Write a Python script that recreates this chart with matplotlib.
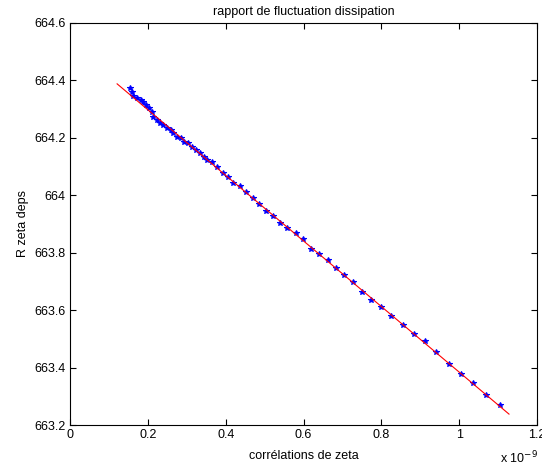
import matplotlib
matplotlib.use("Agg")
import matplotlib.pyplot as plt
import numpy as np

plt.rcParams['font.family'] = ['Liberation Sans', 'DejaVu Sans']

# correlations (units of 1e-9) and R zeta deps values
corr = [0.1545, 0.1597, 0.1622, 0.1725, 0.1828, 0.1880, 0.1957, 0.2034,
        0.2112, 0.2137, 0.2240, 0.2318, 0.2395, 0.2498, 0.2601, 0.2652,
        0.2755, 0.2858, 0.2936, 0.3039, 0.3142, 0.3245, 0.3348, 0.3451,
        0.3528, 0.3657, 0.3785, 0.3940, 0.4069, 0.4197, 0.4378, 0.4532,
        0.4712, 0.4867, 0.5047, 0.5227, 0.5408, 0.5588, 0.5794, 0.5974,
        0.6180, 0.6386, 0.6618, 0.6824, 0.7030, 0.7262, 0.7494, 0.7725,
        0.7983, 0.8240, 0.8549, 0.8833, 0.9116, 0.9399, 0.9734, 1.0043,
        1.0352, 1.0687, 1.1047]
rzeta = [664.374, 664.360, 664.346, 664.339, 664.332, 664.325, 664.314, 664.304,
         664.290, 664.273, 664.262, 664.252, 664.245, 664.234, 664.227, 664.217,
         664.203, 664.199, 664.186, 664.182, 664.168, 664.158, 664.147, 664.133,
         664.123, 664.116, 664.099, 664.078, 664.064, 664.043, 664.032, 664.011,
         663.991, 663.970, 663.945, 663.928, 663.903, 663.886, 663.869, 663.848,
         663.813, 663.796, 663.775, 663.747, 663.722, 663.698, 663.663, 663.635,
         663.611, 663.580, 663.548, 663.517, 663.493, 663.454, 663.412, 663.378,
         663.346, 663.305, 663.270]

# linear fit line end points
fit_x = [0.121, 1.128]
fit_y = [664.388, 663.238]

xticks = [0, 0.2, 0.4, 0.6, 0.8, 1, 1.2]
xticklabels = ['0', '0.2', '0.4', '0.6', '0.8', '1', '1.2']
yticks = [663.2, 663.4, 663.6, 663.8, 664, 664.2, 664.4, 664.6]
yticklabels = ['663.2', '663.4', '663.6', '663.8', '664', '664.2', '664.4', '664.6']

fig = plt.figure(figsize=(5.42, 4.69), dpi=100)
ax = fig.add_axes([0.1292, 0.0938, 0.8616, 0.8572])

ax.plot(corr, rzeta, linestyle='none', marker='*', markersize=4,
        color='blue', markeredgewidth=0.8)
ax.plot(fit_x, fit_y, color='red', linewidth=0.8)

ax.set_xlim(0, 1.2)
ax.set_ylim(663.2, 664.6)
ax.set_xticks(xticks)
ax.set_xticklabels(xticklabels)
ax.set_yticks(yticks)
ax.set_yticklabels(yticklabels)
ax.tick_params(direction='in', top=True, right=True, labelsize=9, length=4,
               width=0.8, pad=3)
for s in ax.spines.values():
    s.set_linewidth(0.8)

ax.set_title('rapport de fluctuation dissipation', fontsize=9, pad=6)
ax.set_xlabel('corrélations de zeta', fontsize=9, labelpad=6)
ax.set_ylabel('R zeta deps', fontsize=9, labelpad=4)
fig.text(0.922, 0.012, r'x 10$^{-9}$', fontsize=9)

fig.savefig('out.png', dpi=100)
plt.close(fig)
